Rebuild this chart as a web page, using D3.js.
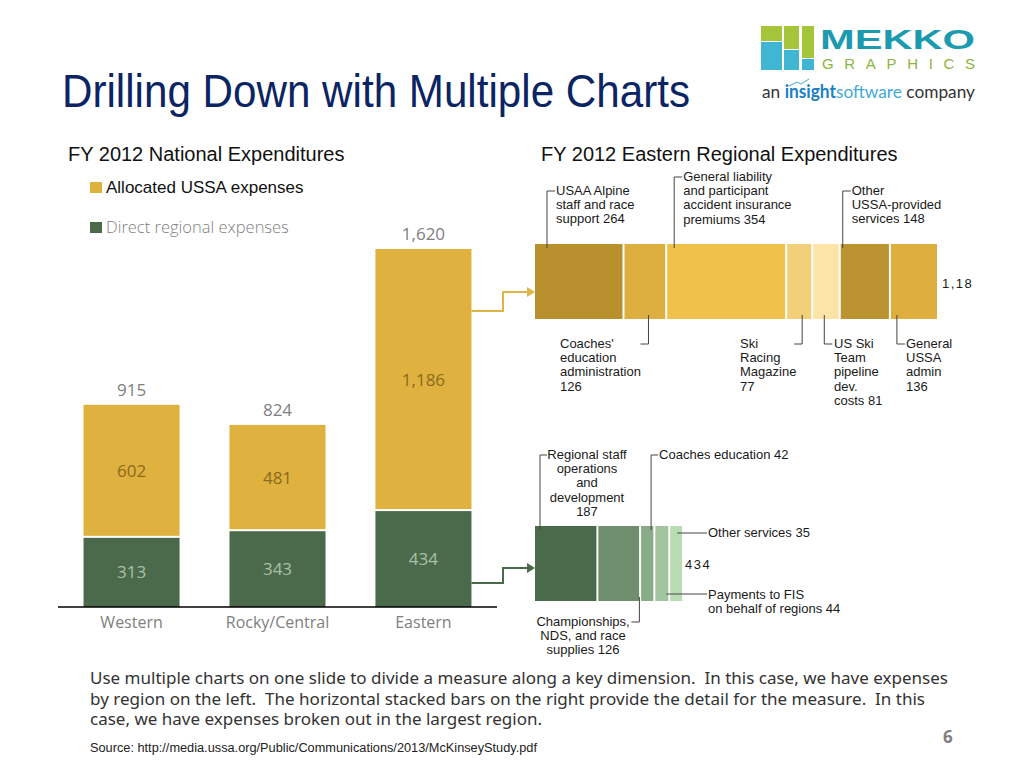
<!DOCTYPE html>
<html>
<head>
<meta charset="utf-8">
<script src="https://cdn.jsdelivr.net/npm/d3@7"></script>
<style>
  body { margin: 0; background: #fff; }
  svg { display: block; }
  .lbl { font-family: "Liberation Sans", Arial, sans-serif; font-size: 13px; fill: #1a1a1a; }
  .os { font-family: "Open Sans", "Noto Sans", sans-serif; }
</style>
</head>
<body>
<svg id="chart" width="1024" height="768"></svg>
<script>
// national chart data
var regions = ["Western", "Rocky/Central", "Eastern"];
var directExpenses = [313, 343, 434];
var allocatedExpenses = [602, 481, 1186];

// eastern region breakdown - allocated USSA expenses
var allocNames = [
  ["USAA Alpine", "staff and race", "support 264"],
  ["Coaches'", "education", "administration", "126"],
  ["General liability", "and participant", "accident insurance", "premiums 354"],
  ["Ski", "Racing", "Magazine", "77"],
  ["US Ski", "Team", "pipeline", "dev.", "costs 81"],
  ["Other", "USSA-provided", "services 148"],
  ["General", "USSA", "admin", "136"]
];
var allocValues = [264, 126, 354, 77, 81, 148, 136];

// eastern region breakdown - direct regional expenses
var directNames = [
  ["Regional staff", "operations", "and", "development", "187"],
  ["Championships,", "NDS, and race", "supplies 126"],
  ["Coaches education 42"],
  ["Payments to FIS", "on behalf of regions 44"],
  ["Other services 35"]
];
var directValues = [187, 126, 42, 44, 35];

var gold = "#DFB13F", green = "#4B6A4B";
var allocColors = ["#B8902E", "#DDAF40", "#F1C24B", "#F2D07A", "#FCE3A6", "#BB9331", "#DEAF3F"];
var directColors = ["#4B6A4B", "#6E8E6E", "#8AAB88", "#A2C49F", "#BADCB5"];

var svg = d3.select("#chart");

// ---- title & logo ----
svg.append("text").attr("x", 62).attr("y", 107)
  .attr("textLength", 628).attr("lengthAdjust", "spacingAndGlyphs")
  .style("font-family", "Liberation Sans, Arial, sans-serif").style("font-size", "46px")
  .style("fill", "#0B2463").text("Drilling Down with Multiple Charts");

var logo = svg.append("g");
[[761, 26, 21, 15, "#A5C63B"], [761, 42, 21, 28, "#41B6D3"],
 [784, 26, 15, 23, "#A5C63B"], [784, 50, 15, 20, "#41B6D3"],
 [802, 26, 12, 32, "#A5C63B"], [802, 59, 12, 11, "#41B6D3"]].forEach(function(r) {
  logo.append("rect").attr("x", r[0]).attr("y", r[1]).attr("width", r[2]).attr("height", r[3]).attr("fill", r[4]);
});
logo.append("text").attr("x", 820).attr("y", 49).attr("textLength", 155).attr("lengthAdjust", "spacingAndGlyphs")
  .style("font-family", "Liberation Sans, Arial, sans-serif").style("font-weight", "bold").style("font-size", "27px")
  .style("fill", "#1C9BB0").text("MEKKO");
logo.append("text").attr("x", 822).attr("y", 69).attr("textLength", 153).attr("lengthAdjust", "spacing")
  .style("font-family", "Liberation Sans, Arial, sans-serif").style("font-size", "15px")
  .style("fill", "#8CB63C").text("GRAPHICS");
var tag = logo.append("text").attr("x", 762).attr("y", 98).attr("textLength", 213).attr("lengthAdjust", "spacingAndGlyphs")
  .style("font-family", "Lato, Open Sans, sans-serif").style("font-size", "18px").style("fill", "#333");
tag.append("tspan").text("an ");
tag.append("tspan").style("fill", "#1B7FC4").style("font-weight", "bold").text("insight");
tag.append("tspan").style("fill", "#3FA9D8").text("software");
tag.append("tspan").text(" company");
logo.append("path").attr("d", "M789,86 L797,82 L801,84 L809,79").attr("fill", "none")
  .attr("stroke", "#3FA9D8").attr("stroke-width", 1);

// ---- section headers ----
svg.append("text").attr("x", 68).attr("y", 161).style("font-family", "Liberation Sans, Arial, sans-serif")
  .style("font-size", "20px").style("fill", "#111").text("FY 2012 National Expenditures");
svg.append("text").attr("x", 541).attr("y", 161).style("font-family", "Liberation Sans, Arial, sans-serif")
  .style("font-size", "20px").style("fill", "#111").text("FY 2012 Eastern Regional Expenditures");

// ---- legend ----
svg.append("rect").attr("x", 90).attr("y", 182).attr("width", 12).attr("height", 11).attr("fill", gold);
svg.append("text").attr("x", 106).attr("y", 193).style("font-family", "Liberation Sans, Arial, sans-serif")
  .style("font-size", "17px").style("fill", "#111").text("Allocated USSA expenses");
svg.append("rect").attr("x", 90).attr("y", 222).attr("width", 12).attr("height", 11).attr("fill", green);
svg.append("text").attr("class", "os").attr("x", 106).attr("y", 233)
  .style("font-size", "16.5px").style("fill", "#808080").style("font-weight", 300).text("Direct regional expenses");

// ---- national stacked columns ----
var rows = regions.map(function(r, i) {
  return { region: r, direct: directExpenses[i], allocated: allocatedExpenses[i] };
});
var series = d3.stack().keys(["direct", "allocated"])(rows);

var x = d3.scaleBand().domain(regions).range([58, 497]).paddingInner(0.342).paddingOuter(0.175);
var y = d3.scaleLinear().domain([0, d3.max(rows, function(d) { return d.direct + d.allocated; })]).range([607, 249]);

var fills = { direct: green, allocated: gold };
var inner = { direct: "#A9C0A8", allocated: "#8A6A1E" };

var layer = svg.append("g").selectAll("g").data(series).enter().append("g")
  .attr("fill", function(s) { return fills[s.key]; });

layer.selectAll("rect").data(function(s) { return s; }).enter().append("rect")
  .attr("x", function(d) { return x(d.data.region); })
  .attr("width", x.bandwidth())
  .attr("y", function(d) { return y(d[1]); })
  .attr("height", function(d) { return y(d[0]) - y(d[1]) - (d[0] > 0 ? 2 : 0); });

series.forEach(function(s) {
  svg.append("g").selectAll("text").data(s).enter().append("text").attr("class", "os")
    .attr("x", function(d) { return x(d.data.region) + x.bandwidth() / 2; })
    .attr("y", function(d) { return (y(d[0]) + y(d[1])) / 2; })
    .attr("dy", "0.35em").attr("text-anchor", "middle")
    .style("font-size", "17px").style("fill", inner[s.key])
    .text(function(d) { return d3.format(",")(d[1] - d[0]); });
});

svg.append("g").selectAll("text").data(rows).enter().append("text").attr("class", "os")
  .attr("x", function(d) { return x(d.region) + x.bandwidth() / 2; })
  .attr("y", function(d) { return y(d.direct + d.allocated) - 9; })
  .attr("text-anchor", "middle").style("font-size", "17px").style("fill", "#808080")
  .text(function(d) { return d3.format(",")(d.direct + d.allocated); });

var xAxis = svg.append("g").attr("transform", "translate(0,607)")
  .call(d3.axisBottom(x).tickSize(0).tickPadding(10));
xAxis.select(".domain").attr("d", "M58,0H497").attr("stroke", "#000").attr("stroke-width", 1.5);
xAxis.selectAll("text").attr("class", "os").style("font-size", "16px").style("fill", "#808080");

// ---- eastern breakdown bars ----
var xr = d3.scaleLinear().domain([0, d3.sum(allocValues)]).range([535, 937]);

function segs(values) {
  var starts = [0].concat(Array.from(d3.cumsum(values)).slice(0, -1));
  return values.map(function(v, i) { return { i: i, v: v, x0: starts[i], x1: starts[i] + v }; });
}
var allocSegs = segs(allocValues), directSegs = segs(directValues);

function drawBar(data, colors, top, h) {
  svg.append("g").selectAll("rect").data(data).enter().append("rect")
    .attr("x", function(d) { return xr(d.x0); })
    .attr("width", function(d, i) { return xr(d.x1) - xr(d.x0) - (i < data.length - 1 ? 2 : 0); })
    .attr("y", top).attr("height", h)
    .attr("fill", function(d) { return colors[d.i]; });
}
drawBar(allocSegs, allocColors, 244, 75);
drawBar(directSegs, directColors, 526, 75);

// totals at the bar ends (top one runs off the slide edge)
svg.append("clipPath").attr("id", "edge").append("rect").attr("x", 930).attr("y", 260).attr("width", 43).attr("height", 40);
svg.append("text").attr("class", "lbl").attr("clip-path", "url(#edge)")
  .attr("x", xr(d3.sum(allocValues)) + 5).attr("y", 288).style("letter-spacing", "1.5px")
  .text(d3.format(",")(d3.sum(allocValues)));
svg.append("text").attr("class", "lbl")
  .attr("x", xr(d3.sum(directValues)) + 3).attr("y", 569).style("letter-spacing", "1.5px")
  .text(d3.format(",")(d3.sum(directValues)));

// leader labels
var leader = d3.line();
function lines(names, tx, firstBase, anchor) {
  var el = svg.append("text").attr("class", "lbl").attr("text-anchor", anchor || "start");
  names.forEach(function(s, k) {
    el.append("tspan").attr("x", tx).attr("y", firstBase + k * 14.2).text(s);
  });
}
function path(pts) {
  svg.append("path").attr("d", leader(pts)).attr("fill", "none").attr("stroke", "#444").attr("stroke-width", 1);
}

// dx = where the leader enters the segment; tick = hook towards the text
var allocPlace = [
  { dx: 12, up: true, tx: 8 },
  { dx: 24, up: false, tick: -8, tx: 560 },
  { dx: 7, up: true, tx: 8 },
  { dx: 15, up: false, tick: -8, tx: 740 },
  { dx: 11, up: false, tick: 8, tx: 834 },
  { dx: 2, up: true, tx: 8 },
  { dx: 6, up: false, tick: 8, tx: 906 }
];
allocSegs.forEach(function(d, i) {
  var p = allocPlace[i], lx = xr(d.x0) + p.dx, n = allocNames[i];
  if (p.up) {
    var first = 223 - (n.length - 1) * 14;
    path([[lx, 248], [lx, first - 4], [lx + p.tx, first - 4]]);
    lines(n, lx + p.tx + 1, first);
  } else {
    path([[lx, 315], [lx, 344], [lx + p.tick, 344]]);
    lines(n, p.tx, 348);
  }
});

var d0 = directSegs;
// Regional staff
path([[xr(d0[0].x0) + 5, 530], [xr(d0[0].x0) + 5, 455], [547, 455]]);
lines(directNames[0], 587, 459, "middle");
// Championships
path([[xr(d0[1].x0) + 41, 597], [xr(d0[1].x0) + 41, 622], [xr(d0[1].x0) + 33, 622]]);
lines(directNames[1], 583, 626, "middle");
// Coaches education
path([[xr(d0[2].x0) + 10, 530], [xr(d0[2].x0) + 10, 455], [xr(d0[2].x0) + 17, 455]]);
lines(directNames[2], xr(d0[2].x0) + 18, 459);
// Payments to FIS
path([[xr(d0[3].x0) + 11, 594], [707, 594]]);
lines(directNames[3], 708, 599);
// Other services
path([[xr(d0[4].x0) + 7, 533], [707, 533]]);
lines(directNames[4], 708, 537);

// ---- drill-down connectors ----
function arrow(pts, color) {
  svg.append("path").attr("d", leader(pts)).attr("fill", "none").attr("stroke", color).attr("stroke-width", 2);
  var e = pts[pts.length - 1];
  svg.append("path").attr("d", "M" + e[0] + "," + (e[1] - 5) + "L" + (e[0] + 8) + "," + e[1] + "L" + e[0] + "," + (e[1] + 5) + "Z")
    .attr("fill", color);
}
var ex = x("Eastern") + x.bandwidth();
arrow([[ex, 311], [503, 311], [503, 292], [527, 292]], "#E0B445");
arrow([[ex, 583], [503, 583], [503, 568], [527, 568]], green);

// ---- footer ----
var note = [
  "Use multiple charts on one slide to divide a measure along a key dimension.  In this case, we have expenses",
  "by region on the left.  The horizontal stacked bars on the right provide the detail for the measure.  In this",
  "case, we have expenses broken out in the largest region."
];
var noteWidths = [858, 835, 452];
note.forEach(function(t, i) {
  svg.append("text").attr("x", 90).attr("y", 684 + i * 20.5)
    .attr("textLength", noteWidths[i]).attr("lengthAdjust", "spacingAndGlyphs")
    .style("font-family", "Noto Sans, Open Sans, sans-serif").style("font-size", "16px").style("fill", "#333")
    .style("white-space", "pre").text(t);
});
svg.append("text").attr("x", 90).attr("y", 752).attr("textLength", 447).attr("lengthAdjust", "spacingAndGlyphs")
  .style("font-family", "Liberation Sans, Arial, sans-serif").style("font-size", "12.5px").style("fill", "#222")
  .text("Source: http://media.ussa.org/Public/Communications/2013/McKinseyStudy.pdf");
svg.append("text").attr("x", 943).attr("y", 743).style("font-family", "Open Sans, sans-serif")
  .style("font-size", "17px").style("font-weight", "bold").style("fill", "#808080").text("6");
</script>
</body>
</html>
